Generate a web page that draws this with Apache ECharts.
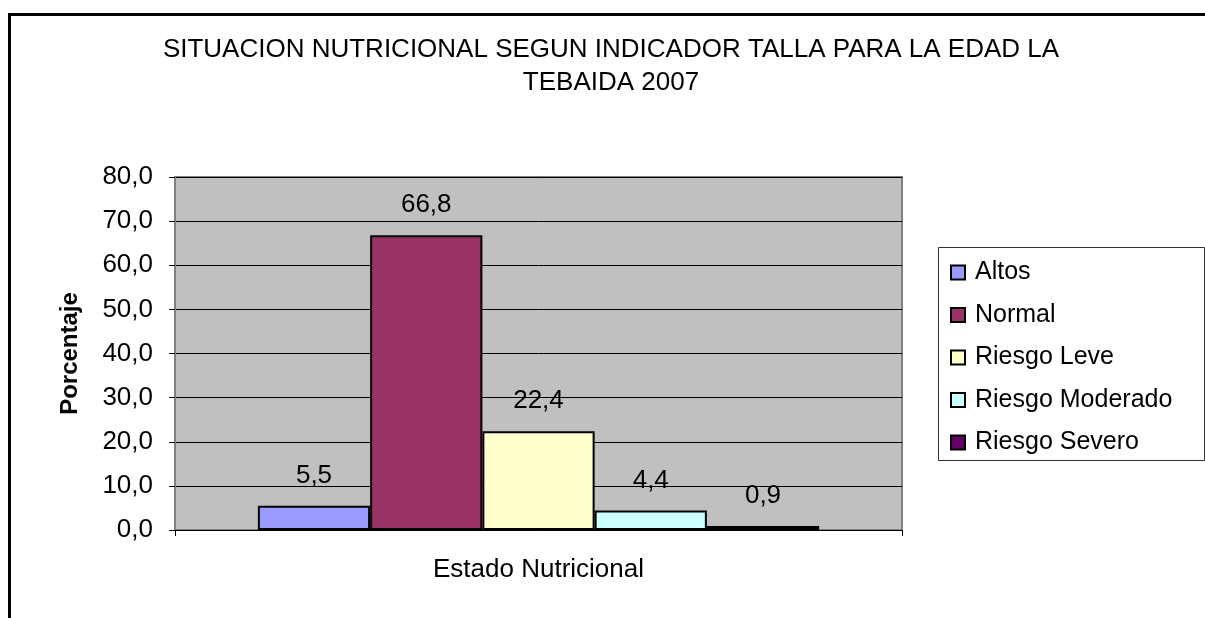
<!DOCTYPE html>
<html>
<head>
<meta charset="utf-8">
<script src="https://cdn.jsdelivr.net/npm/echarts@6/dist/echarts.min.js"></script>
<style>html,body{margin:0;padding:0;background:#fff}#c{width:1205px;height:618px}</style>
</head>
<body>
<div id="c"></div>
<script>
const categories = ['Estado Nutricional'];
const seriesNames = ['Altos', 'Normal', 'Riesgo Leve', 'Riesgo Moderado', 'Riesgo Severo'];
const seriesValues = [5.5, 66.8, 22.4, 4.4, 0.9];
const seriesColors = ['#9999FF', '#993366', '#FFFFCC', '#CCFFFF', '#660066'];
const yTicks = [0, 10, 20, 30, 40, 50, 60, 70, 80];

const fmt = v => Number(v).toFixed(1).replace('.', ',');
const FONT = 'Liberation Sans, Arial, sans-serif';

const chart = echarts.init(document.getElementById('c'), null, {renderer: 'canvas'});
chart.setOption({
  animation: false,
  backgroundColor: '#fff',
  textStyle: {fontFamily: FONT, color: '#000'},
  title: {
    text: 'SITUACION NUTRICIONAL SEGUN INDICADOR TALLA PARA LA EDAD LA\nTEBAIDA 2007',
    left: 606, top: 28, textAlign: 'center',
    textStyle: {fontFamily: FONT, fontSize: 26, fontWeight: 'normal', color: '#000', lineHeight: 33}
  },
  graphic: [
    {type: 'rect', left: 7, top: 12, shape: {width: 1300, height: 700}, style: {fill: 'none', stroke: '#000', lineWidth: 3}, silent: true},
    {type: 'rect', left: 938, top: 247, shape: {width: 266, height: 213}, style: {fill: '#fff', stroke: '#333', lineWidth: 1}, silent: true, z: -1}
  ],
  legend: {
    orient: 'vertical', left: 938, top: 247,
    padding: [13, 12, 8, 12],
    itemWidth: 14, itemHeight: 14, itemGap: 17.5,
    icon: 'rect',
    data: seriesNames,
    textStyle: {fontFamily: FONT, fontSize: 25, color: '#000', padding: [0, 0, 0, 5]}
  },
  grid: {left: 175, top: 177, right: 303, bottom: 88, show: true, backgroundColor: '#C0C0C0', borderColor: '#808080', borderWidth: 2},
  xAxis: {
    type: 'category', data: categories,
    axisLine: {lineStyle: {color: '#000', width: 1}},
    axisTick: {show: true, length: 6, lineStyle: {color: '#000'}},
    axisLabel: {fontFamily: FONT, fontSize: 26, color: '#000', margin: 27}
  },
  yAxis: {
    type: 'value', min: 0, max: 80, interval: 10,
    name: 'Porcentaje', nameLocation: 'middle', nameGap: 93, nameRotate: 90,
    nameTextStyle: {fontFamily: FONT, fontSize: 24, fontWeight: 'bold', color: '#000'},
    axisLine: {show: true, lineStyle: {color: '#808080', width: 2}},
    axisTick: {show: true, length: 6, lineStyle: {color: '#000'}},
    axisLabel: {fontFamily: FONT, fontSize: 26, color: '#000', margin: 22, formatter: v => yTicks.includes(v) ? fmt(v) : ''},
    splitLine: {show: true, lineStyle: {color: '#000', width: 1}}
  },
  series: seriesNames.map((name, i) => ({
    name, type: 'bar',
    data: [seriesValues[i]],
    barGap: '0%', barCategoryGap: '22.8%',
    itemStyle: {color: seriesColors[i], borderColor: '#000', borderWidth: 2},
    label: {show: true, position: 'top', distance: 17, fontFamily: FONT, fontSize: 26, color: '#000', formatter: p => fmt(p.value)}
  }))
});
</script>
</body>
</html>
